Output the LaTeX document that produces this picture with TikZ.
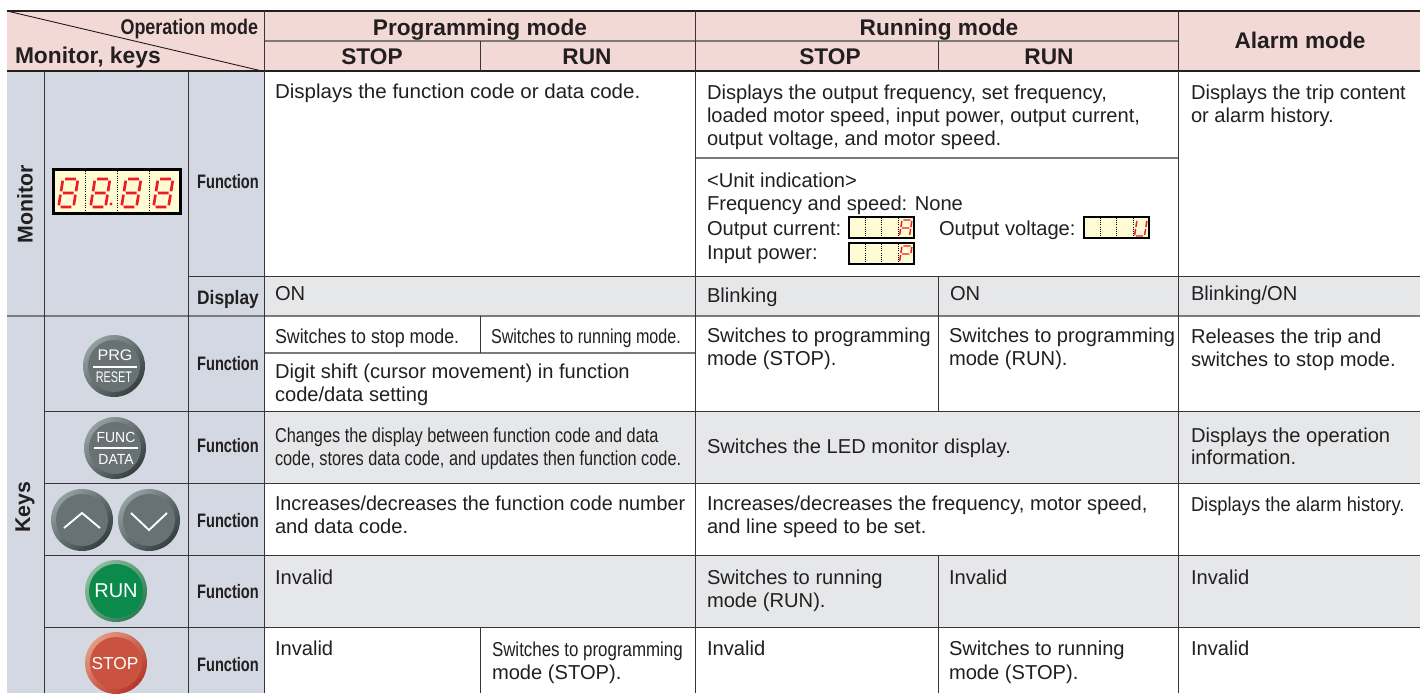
\documentclass[tikz,border=0pt]{standalone}
\usepackage{fontspec}
\setmainfont{Liberation Sans}
\usepackage{graphicx}
\definecolor{ink}{HTML}{231F20}
\definecolor{hdr}{HTML}{F2D9D5}
\definecolor{side}{HTML}{D3D8E2}
\definecolor{rowg}{HTML}{E6E7E9}
\definecolor{lcd}{HTML}{FFFBD5}
\definecolor{ledred}{HTML}{ED1C24}
\definecolor{greyin}{HTML}{687274}
\definecolor{greyhi}{HTML}{93A0A0}
\definecolor{greylo}{HTML}{353F40}
\definecolor{grnin}{HTML}{0B8A4B}
\definecolor{grnhi}{HTML}{8DBB9E}
\definecolor{grnlo}{HTML}{2C7C52}
\definecolor{redin}{HTML}{C9533F}
\definecolor{redhi}{HTML}{E49A80}
\definecolor{redlo}{HTML}{B5352A}
\newcounter{tn}
\tikzset{
  x=0.75pt,y=-0.75pt,
  base/.style={inner sep=0pt,outer sep=0pt,text=ink,anchor=base west},
  body/.style={base,font=\fontsize{15.1}{18}\selectfont},
  hd/.style={base,anchor=base,font=\fontsize{17}{20}\bfseries\selectfont},
  fn/.style={base,anchor=center,font=\fontsize{14.6}{17}\bfseries\selectfont},
  gridl/.style={draw=ink!90,line width=0.75pt},
  softl/.style={draw=ink!60,line width=0.9pt},
  thick1/.style={draw=ink,line width=1.9pt},
  seg/.style={draw=ledred,line width=2pt},
  segs/.style={draw=ledred,line width=1.1pt},
  keylab/.style={inner sep=0pt,text=white,anchor=center},
}
\newcommand\tx[4][1]{\stepcounter{tn}\node[body] (t\number\value{tn}) at (#2,#3+1) {\scalebox{#1}[1]{#4}};}
\newcommand\hdr[3]{\stepcounter{tn}\node[hd] (t\number\value{tn}) at (#1,#2+1) {#3};}
\newcommand\fnl[3][Function]{\stepcounter{tn}\node[fn] (t\number\value{tn}) at (#2,#3+1) {\scalebox{0.75}[1]{#1}};}
\newcommand\eightpath{(.14,0)--(.86,0) (1,.06)--(1,.44) (1,.56)--(1,.94) (.14,1)--(.86,1) (0,.56)--(0,.94) (0,.06)--(0,.44) (.14,.5)--(.86,.5)}
\newcommand\Apath{(.14,0)--(.86,0) (1,.06)--(1,.44) (1,.56)--(1,.94) (0,.56)--(0,.94) (0,.06)--(0,.44) (.14,.5)--(.86,.5)}
\newcommand\Ppath{(.14,0)--(.86,0) (1,.06)--(1,.44) (0,.56)--(0,.94) (0,.06)--(0,.44) (.14,.5)--(.86,.5)}
\newcommand\Upath{(1,.06)--(1,.44) (1,.56)--(1,.94) (.14,1)--(.86,1) (0,.56)--(0,.94) (0,.06)--(0,.44)}
\newcommand\digit[2]{\begin{scope}[shift={(#1,#2)},xscale=15,yscale=28,xslant=0.3]\draw[seg] \eightpath;\end{scope}}
\newcommand\glyph[3]{\begin{scope}[shift={(#1,#2)},xscale=10,yscale=16,xslant=0.25]\draw[segs] #3;\end{scope}}
\newcommand\smallpanel[3]{% x y, glyph
  \fill[black] (#1,#2) rectangle ++(67,23);
  \fill[lcd] (#1+2,#2+2) rectangle ++(63,19);
  \draw[black,densely dotted,line width=0.6pt] (#1+17,#2+2)--++(0,19) (#1+33,#2+2)--++(0,19) (#1+50,#2+2)--++(0,19);
  \glyph{#1+54}{#2+4}{#3}
}
\newcommand\key[6]{% x y ringlight ringdark inner radius
  \shade[top color=#3,bottom color=#4,shading angle=45] (#1,#2) circle (31);
  \fill[#5] (#1,#2) circle (#6);
}
\begin{document}
\begin{tikzpicture}
\useasboundingbox (0,0) rectangle (1420,693);
\fill[white] (0,0) rectangle (1420,693);
% fills
\fill[hdr] (7,11) rectangle (1420,71);
\fill[side] (7,71) rectangle (264,693);
\fill[rowg] (264,276) rectangle (1420,316);
\fill[rowg] (264,411) rectangle (1420,483);
\fill[rowg] (264,555) rectangle (1420,627);
% horizontal rules
\draw[gridl] (188,276)--(1420,276);
\draw[gridl] (44,411)--(1420,411) (44,483)--(1420,483) (44,555)--(1420,555) (44,627)--(1420,627);
\draw[softl] (264,41)--(1178,41) (695,158)--(1178,158) (264,353)--(695,353) (7,316)--(1420,316);
\draw[thick1] (7,11)--(1420,11) (7,71)--(1420,71);
% vertical rules
\draw[gridl] (44,71)--(44,693) (188,71)--(188,693) (264,11)--(264,693) (695,11)--(695,693) (1178,11)--(1178,693);
\draw[gridl] (480,41)--(480,71) (480,316)--(480,353) (480,627)--(480,693);
\draw[gridl] (938,41)--(938,71) (938,276)--(938,411) (938,555)--(938,693);
\draw[ink,line width=0.7pt] (7,11)--(262,71);
% header
\node[base,anchor=base east,font=\fontsize{16}{18}\bfseries\selectfont] (opmode) at (258,34) {\scalebox{0.84}[1]{Operation mode}};
\node[base,font=\fontsize{17.1}{19}\bfseries\selectfont] (monkeys) at (15,63) {Monitor, keys};
\hdr{480}{34}{Programming mode}
\hdr{372}{63}{STOP}
\hdr{587}{63}{RUN}
\hdr{939}{34}{Running mode}
\hdr{830}{63}{STOP}
\hdr{1049}{63}{RUN}
\hdr{1300}{47}{Alarm mode}
% side labels
\node[base,anchor=center,rotate=90,font=\fontsize{16}{18}\bfseries\selectfont] (monlab) at (25,204) {Monitor};
\node[base,anchor=center,rotate=90,font=\fontsize{16}{18}\bfseries\selectfont] (keylab) at (25,507) {Keys};
\fnl{228}{181}
\stepcounter{tn}\node[fn] (dsplab) at (228,299) {\scalebox{0.89}[1]{Display}};
\fnl{228}{363}
\fnl{228}{445}
\fnl{228}{520}
\fnl{228}{591}
\fnl{228}{664}
% monitor display
\fill[black] (52,168) rectangle (182,215);
\fill[lcd] (55,171) rectangle (179,212);
\draw[black,densely dotted,line width=0.7pt] (85,171)--(85,212) (117,171)--(117,212) (149,171)--(149,212);
\digit{63}{179}
\digit{95}{179}
\digit{126}{179}
\digit{158}{179}
\fill[ledred] (111,204) circle (1.6);
% keys
\key{114}{366}{greyhi}{greylo}{greyin}{26}
\key{115}{448}{greyhi}{greylo}{greyin}{26}
\key{82}{520}{greyhi}{greylo}{greyin}{26}
\key{149}{520}{greyhi}{greylo}{greyin}{26}
\key{116}{591}{grnhi}{grnlo}{grnin}{27}
\key{116}{663}{redhi}{redlo}{redin}{26}
\node[keylab,font=\fontsize{11.5}{12}\selectfont] (prg) at (115,355) {\scalebox{1.05}[1]{PRG}};
\node[keylab,font=\fontsize{11.5}{12}\selectfont] (reset) at (114,377) {\scalebox{0.71}[1]{RESET}};
\draw[white,line width=1.1pt] (93,367)--(137,367);
\node[keylab,font=\fontsize{11}{12}\selectfont] (func) at (116,437) {\scalebox{0.95}[1]{FUNC}};
\node[keylab,font=\fontsize{11}{12}\selectfont] (data) at (116,459) {\scalebox{0.95}[1]{DATA}};
\draw[white,line width=1.1pt] (94,448)--(138,448);
\draw[white,line width=1.4pt] (64,528)--(82,513)--(100,528);
\draw[white,line width=1.4pt] (131,513)--(149,530)--(167,513);
\node[keylab,font=\fontsize{15}{16}\selectfont] (run) at (116,591) {RUN};
\node[keylab,font=\fontsize{13}{16}\selectfont] (stop) at (115,664) {STOP};
% small panels
\smallpanel{848}{216}{\Apath}
\smallpanel{1083}{216}{\Upath}
\smallpanel{848}{242}{\Ppath}
% texts
\tx[1.02]{275}{97}{Displays the function code or data code.}
\tx{707}{98}{Displays the output frequency, set frequency,}
\tx{707}{121}{loaded motor speed, input power, output current,}
\tx{707}{144}{output voltage, and motor speed.}
\tx{1191}{98}{Displays the trip content}
\tx{1191}{121}{or alarm history.}
\tx{707}{186}{<Unit indication>}
\tx{707}{209}{Frequency and speed: None}
\tx{707}{234}{Output current:}
\tx{939}{234}{Output voltage:}
\tx{707}{258}{Input power:}
\tx{275}{299}{ON}
\tx{707}{301}{Blinking}
\tx{950}{299}{ON}
\tx{1191}{299}{Blinking/ON}
\tx[0.885]{275}{342}{Switches to stop mode.}
\tx[0.80]{491}{342}{Switches to running mode.}
\tx{275}{377}{Digit shift (cursor movement) in function}
\tx{275}{400}{code/data setting}
\tx[0.985]{707}{341}{Switches to programming}
\tx{707}{364}{mode (STOP).}
\tx[0.995]{949}{341}{Switches to programming}
\tx{949}{364}{mode (RUN).}
\tx{1191}{342}{Releases the trip and}
\tx{1191}{365}{switches to stop mode.}
\tx[0.81]{275}{441}{Changes the display between function code and data}
\tx[0.81]{275}{464}{code, stores data code, and updates then function code.}
\tx{707}{452}{Switches the LED monitor display.}
\tx{1191}{441}{Displays the operation}
\tx{1191}{463}{information.}
\tx[0.98]{275}{509}{Increases/decreases the function code number}
\tx{275}{532}{and data code.}
\tx{707}{509}{Increases/decreases the frequency, motor speed,}
\tx{707}{532}{and line speed to be set.}
\tx[0.91]{1191}{510}{Displays the alarm history.}
\tx{275}{583}{Invalid}
\tx{707}{583}{Switches to running}
\tx{707}{606}{mode (RUN).}
\tx{949}{583}{Invalid}
\tx{1191}{583}{Invalid}
\tx{275}{654}{Invalid}
\tx[0.84]{492}{655}{Switches to programming}
\tx{492}{678}{mode (STOP).}
\tx{707}{654}{Invalid}
\tx{949}{654}{Switches to running}
\tx{949}{678}{mode (STOP).}
\tx{1191}{654}{Invalid}
\end{tikzpicture}
\end{document}
